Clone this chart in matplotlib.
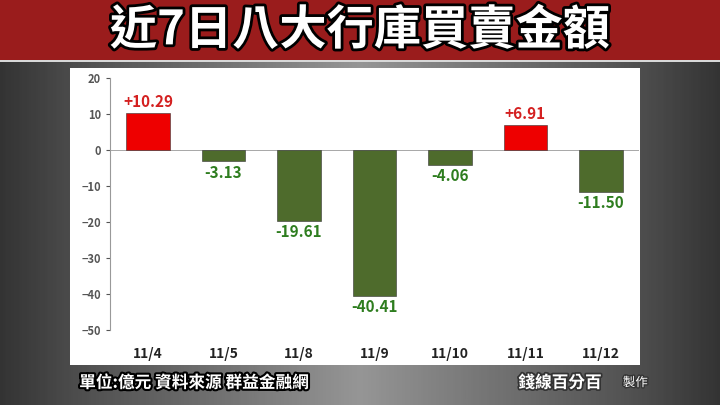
import matplotlib
matplotlib.use('Agg')
import matplotlib.pyplot as plt
import matplotlib.patheffects as pe
from matplotlib.patches import Rectangle
import numpy as np

plt.rcParams['font.family'] = ['Noto Sans CJK TC', 'DejaVu Sans']

dates = ['11/4', '11/5', '11/8', '11/9', '11/10', '11/11', '11/12']
values = [10.29, -3.13, -19.61, -40.41, -4.06, 6.91, -11.50]

fig = plt.figure(figsize=(7.2, 4.05), dpi=100)
fig.patch.set_facecolor('#6e6e6e')

# grey background, lighter in the middle
bg = fig.add_axes([0, 0, 1, 1], zorder=-10)
grad = np.linspace(0, 1, 256).reshape(1, -1)
grad = np.abs(grad - 0.5) * 2
bg.imshow(grad, extent=[0, 1, 0, 1], aspect='auto', cmap='Greys', vmin=-1.5, vmax=1.5)
bg.axis('off')

# title bar
fig.patches.append(Rectangle((0, 0.85), 1, 0.15, transform=fig.transFigure,
                             facecolor='#9a1c1c', zorder=-5))
fig.patches.append(Rectangle((0, 0.846), 1, 0.006, transform=fig.transFigure,
                             facecolor='#d8d8d8', zorder=-4))
fig.text(0.5, 0.925, '近7日八大行庫買賣金額', color='white', fontsize=34,
         fontweight='bold', ha='center', va='center',
         path_effects=[pe.withStroke(linewidth=4, foreground='black')])

# white panel
fig.patches.append(Rectangle((0.097, 0.099), 0.792, 0.733, transform=fig.transFigure,
                             facecolor='white', zorder=-3))

ax = fig.add_axes([0.153, 0.185, 0.734, 0.622])
ax.set_facecolor('none')
colors = ['#ee0000' if v > 0 else '#4e6b2c' for v in values]
x = range(len(dates))
ax.bar(x, values, width=0.58, color=colors, edgecolor='#333333', linewidth=0.4)
for i, v in enumerate(values):
    if v > 0:
        ax.text(i, v + 1, '+%.2f' % v, ha='center', va='bottom', color='#d42020',
                fontsize=11, fontweight='bold')
    else:
        ax.text(i, v - 1, '%.2f' % v, ha='center', va='top', color='#2e7d1f',
                fontsize=11, fontweight='bold')
ax.set_ylim(-50, 20)
ax.set_xlim(-0.5, len(dates) - 0.5)
ax.set_yticks(range(-50, 21, 10))
ax.tick_params(axis='y', labelsize=8, colors='#555555', length=3)
ax.set_xticks(list(x))
ax.set_xticklabels(dates, fontsize=10, fontweight='bold', color='#222222')
ax.tick_params(axis='x', length=0, pad=12)
for s in ['top', 'right', 'bottom']:
    ax.spines[s].set_visible(False)
ax.spines['left'].set_color('#999999')
ax.axhline(0, color='#999999', lw=0.6, zorder=0)
for lab in ax.get_yticklabels():
    lab.set_fontweight('bold')

fig.text(0.11, 0.055, '單位:億元 資料來源 群益金融網', color='white', fontsize=12,
         fontweight='bold', ha='left', va='center',
         path_effects=[pe.withStroke(linewidth=3, foreground='black')])
fig.text(0.72, 0.055, '錢線百分百', color='white', fontsize=12, fontweight='bold',
         ha='left', va='center',
         path_effects=[pe.withStroke(linewidth=2.5, foreground='#333333')])
fig.text(0.865, 0.055, '製作', color='white', fontsize=9, ha='left', va='center',
         path_effects=[pe.withStroke(linewidth=2, foreground='#333333')])

fig.savefig('out.png', dpi=100)
